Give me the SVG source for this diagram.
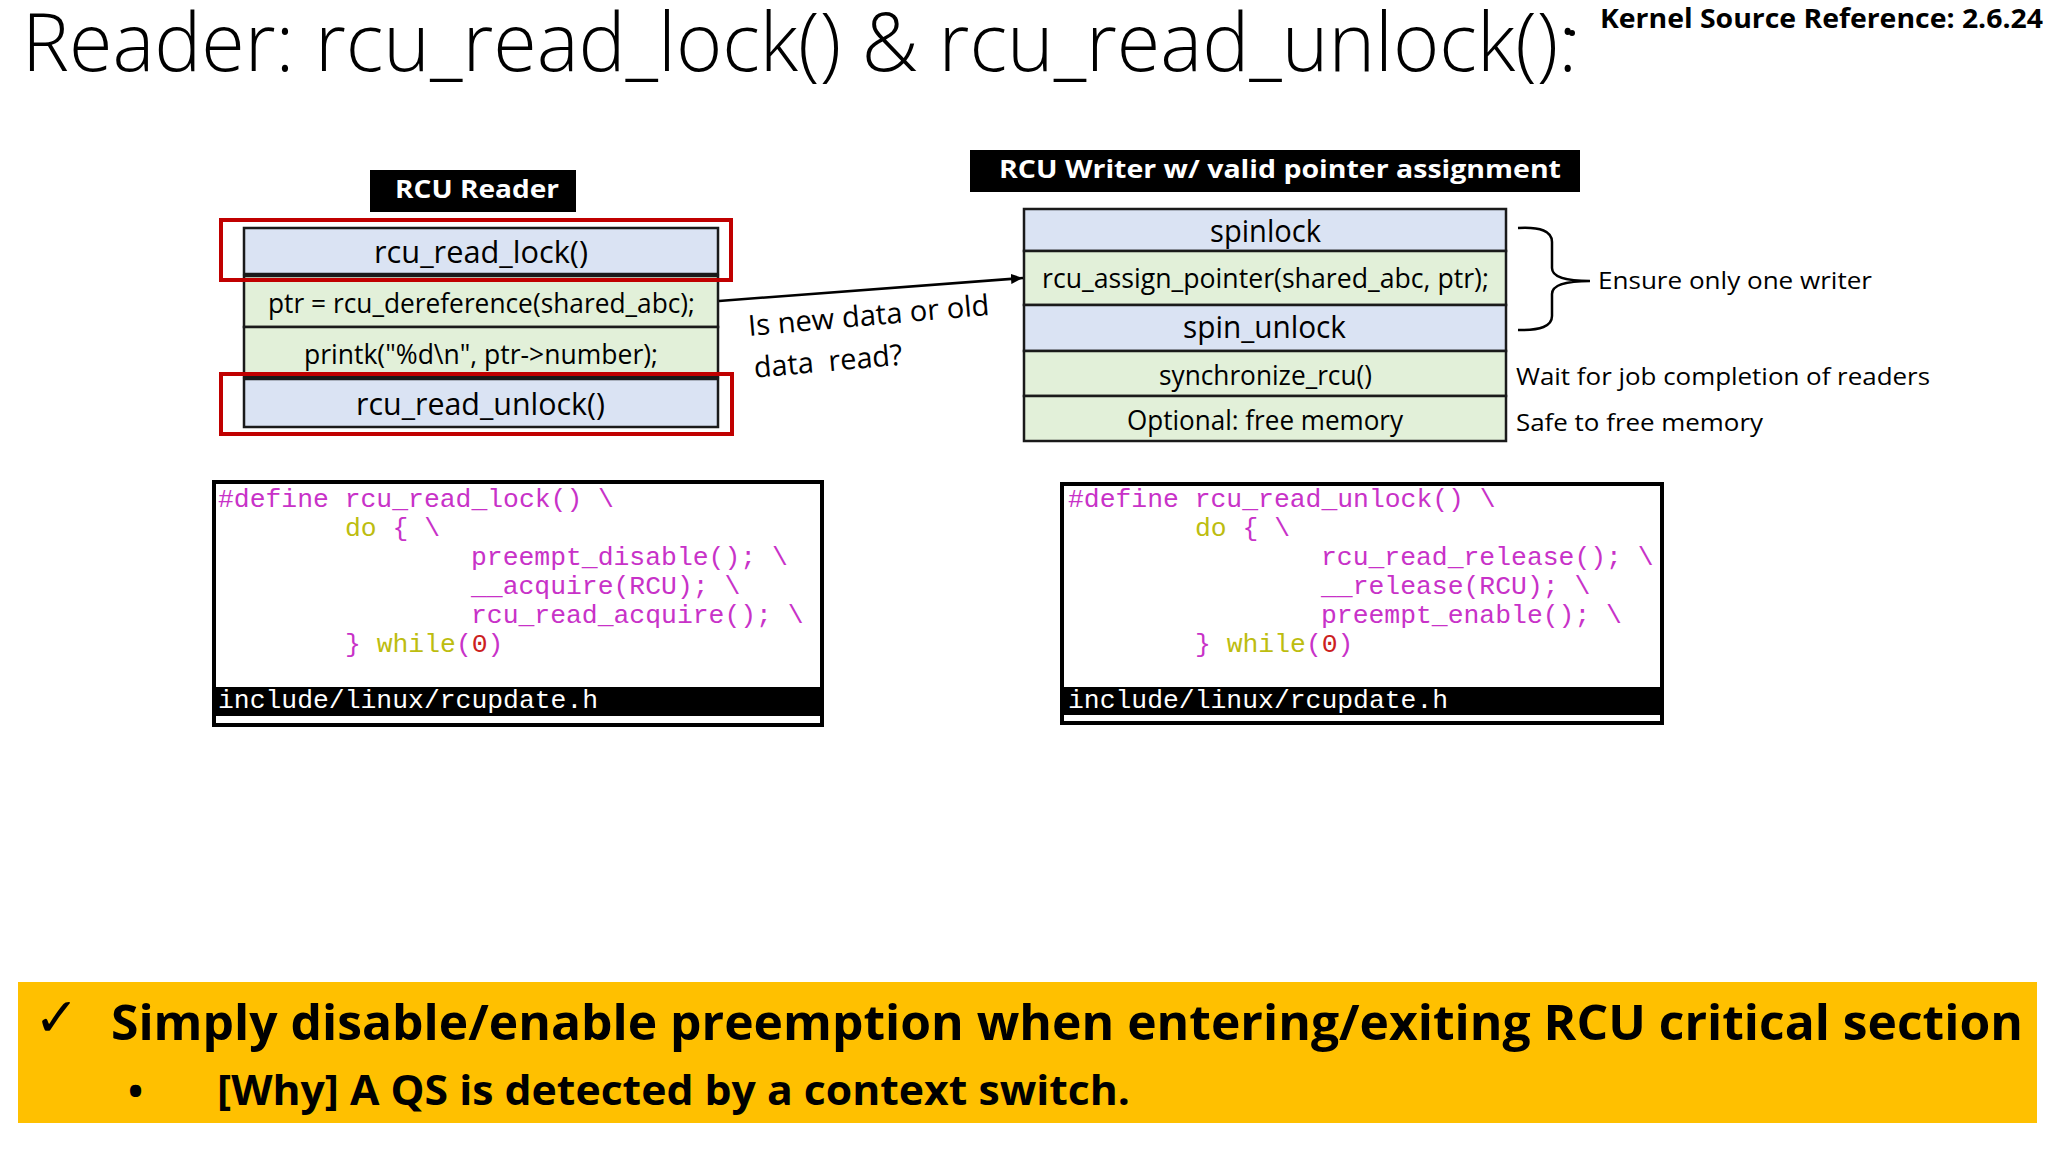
<svg xmlns="http://www.w3.org/2000/svg" width="2048" height="1152" viewBox="0 0 2048 1152">
<defs>
<style>
text{font-family:"Open Sans","Noto Sans","Liberation Sans",sans-serif;fill:#000;}
.title{font-size:81px;font-weight:300;}
.bold{font-weight:700;}
.hdr{font-size:25px;font-weight:700;fill:#fff;}
.big{font-size:30.5px;}
.mid{font-size:27px;}
.note{font-size:23px;}
.code{font-family:"Liberation Mono","Courier New",monospace;font-size:26.4px;white-space:pre;}
.m{fill:#C832C8;}
.y{fill:#BDBD10;}
.r{fill:#CC2020;}
.w{fill:#fff;}
.blue{fill:#DAE3F3;stroke:#1a1a1a;stroke-width:2.5;}
.green{fill:#E2F0D9;stroke:#1a1a1a;stroke-width:2.5;}
.redbox{fill:none;stroke:#C00000;stroke-width:4;}
.codebox{fill:#fff;stroke:#000;stroke-width:4;}
.line{fill:none;stroke:#000;stroke-width:2.5;}
.pre{white-space:pre;}
</style>
<marker id="arr" viewBox="0 0 12 10" refX="12" refY="5" markerWidth="12" markerHeight="10" markerUnits="userSpaceOnUse" orient="auto">
<path d="M0,0 L12,5 L0,10 z" fill="#000"/>
</marker>
</defs>
<rect width="2048" height="1152" fill="#fff"/>

<g id="title">
<text class="title" x="22" y="71" textLength="1555" lengthAdjust="spacingAndGlyphs">Reader: rcu_read_lock() &amp; rcu_read_unlock():</text>
</g>
<g id="kernel-ref">
<circle cx="1572" cy="33" r="3" fill="#000"/>
<text class="bold" x="1600" y="28" font-size="26" textLength="443" lengthAdjust="spacingAndGlyphs">Kernel Source Reference: 2.6.24</text>
</g>

<g id="reader">
<rect x="370" y="170" width="206" height="42" fill="#000"/>
<text class="hdr" x="395" y="198" textLength="164" lengthAdjust="spacingAndGlyphs">RCU Reader</text>
<rect class="blue" x="244" y="228" width="474" height="46"/>
<rect class="green" x="244" y="276" width="474" height="51"/>
<rect class="green" x="244" y="327" width="474" height="50"/>
<rect class="blue" x="244" y="379" width="474" height="48"/>
<text class="big" x="374" y="263" textLength="214" lengthAdjust="spacingAndGlyphs">rcu_read_lock()</text>
<text class="mid" x="268" y="313" textLength="427" lengthAdjust="spacingAndGlyphs">ptr = rcu_dereference(shared_abc);</text>
<text class="mid" x="304" y="364" textLength="354" lengthAdjust="spacingAndGlyphs">printk("%d\n", ptr-&gt;number);</text>
<text class="big" x="356" y="415" textLength="249" lengthAdjust="spacingAndGlyphs">rcu_read_unlock()</text>
<rect class="redbox" x="221" y="220" width="510" height="60"/>
<rect class="redbox" x="221" y="374" width="511" height="60"/>
</g>

<g id="writer">
<rect x="970" y="150" width="610" height="42" fill="#000"/>
<text class="hdr" x="999" y="178" textLength="562" lengthAdjust="spacingAndGlyphs">RCU Writer w/ valid pointer assignment</text>
<rect class="blue" x="1024" y="209" width="482" height="42"/>
<rect class="green" x="1024" y="251" width="482" height="54"/>
<rect class="blue" x="1024" y="305" width="482" height="46"/>
<rect class="green" x="1024" y="351" width="482" height="45"/>
<rect class="green" x="1024" y="396" width="482" height="45"/>
<text class="big" x="1210" y="242" textLength="111" lengthAdjust="spacingAndGlyphs">spinlock</text>
<text class="mid" x="1042" y="288" textLength="447" lengthAdjust="spacingAndGlyphs">rcu_assign_pointer(shared_abc, ptr);</text>
<text class="big" x="1183" y="338" textLength="163" lengthAdjust="spacingAndGlyphs">spin_unlock</text>
<text class="mid" x="1159" y="385" textLength="213" lengthAdjust="spacingAndGlyphs">synchronize_rcu()</text>
<text class="mid" x="1127" y="430" textLength="276" lengthAdjust="spacingAndGlyphs">Optional: free memory</text>
</g>

<g id="notes">
<text class="note" x="1598" y="289" textLength="274" lengthAdjust="spacingAndGlyphs">Ensure only one writer</text>
<text class="note" x="1516" y="385" textLength="414" lengthAdjust="spacingAndGlyphs">Wait for job completion of readers</text>
<text class="note" x="1516" y="431" textLength="247" lengthAdjust="spacingAndGlyphs">Safe to free memory</text>
</g>

<g id="question">
<g transform="rotate(-5 749 336)">
<text x="749" y="336" font-size="29" textLength="242" lengthAdjust="spacingAndGlyphs">Is new data or old</text>
<text class="pre" x="751" y="378" font-size="29" textLength="149" lengthAdjust="spacingAndGlyphs">data  read?</text>
</g>
</g>

<g id="connectors">
<line class="line" x1="719" y1="301" x2="1023" y2="278" marker-end="url(#arr)"/>
<path class="line" d="M1518,228 Q1552,226 1552,242 L1552,268 Q1552,281 1590,281 Q1552,281 1552,294 L1552,316 Q1552,331 1518,330"/>
</g>

<g id="code-lock">
<rect class="codebox" x="214" y="482" width="608" height="243"/>
<rect x="214" y="687" width="608" height="29" fill="#000"/>
<text class="code m" x="218" y="507">#define rcu_read_lock() \</text>
<text class="code" x="345" y="536"><tspan class="y">do</tspan><tspan class="m"> { \</tspan></text>
<text class="code m" x="471" y="565">preempt_disable(); \</text>
<text class="code m" x="471" y="594">__acquire(RCU); \</text>
<text class="code m" x="471" y="623">rcu_read_acquire(); \</text>
<text class="code" x="345" y="652"><tspan class="m">} </tspan><tspan class="y">while</tspan><tspan class="m">(</tspan><tspan class="r">0</tspan><tspan class="m">)</tspan></text>
<text class="code w" x="218" y="708">include/linux/rcupdate.h</text>
</g>

<g id="code-unlock">
<rect class="codebox" x="1062" y="484" width="600" height="239"/>
<rect x="1062" y="687" width="600" height="28" fill="#000"/>
<text class="code m" x="1068" y="507">#define rcu_read_unlock() \</text>
<text class="code" x="1195" y="536"><tspan class="y">do</tspan><tspan class="m"> { \</tspan></text>
<text class="code m" x="1321" y="565">rcu_read_release(); \</text>
<text class="code m" x="1321" y="594">__release(RCU); \</text>
<text class="code m" x="1321" y="623">preempt_enable(); \</text>
<text class="code" x="1195" y="652"><tspan class="m">} </tspan><tspan class="y">while</tspan><tspan class="m">(</tspan><tspan class="r">0</tspan><tspan class="m">)</tspan></text>
<text class="code w" x="1068" y="708">include/linux/rcupdate.h</text>
</g>

<g id="banner">
<rect x="18" y="982" width="2019" height="141" fill="#FFC000"/>
<text x="34" y="1036" font-size="54" style="font-family:'DejaVu Sans',sans-serif">✓</text>
<text class="bold" x="111" y="1040" font-size="48" textLength="1912" lengthAdjust="spacingAndGlyphs">Simply disable/enable preemption when entering/exiting RCU critical section</text>
<text class="bold" x="128" y="1105" font-size="40">•</text>
<text class="bold" x="217" y="1105" font-size="41" textLength="913" lengthAdjust="spacingAndGlyphs">[Why] A QS is detected by a context switch.</text>
</g>
</svg>
